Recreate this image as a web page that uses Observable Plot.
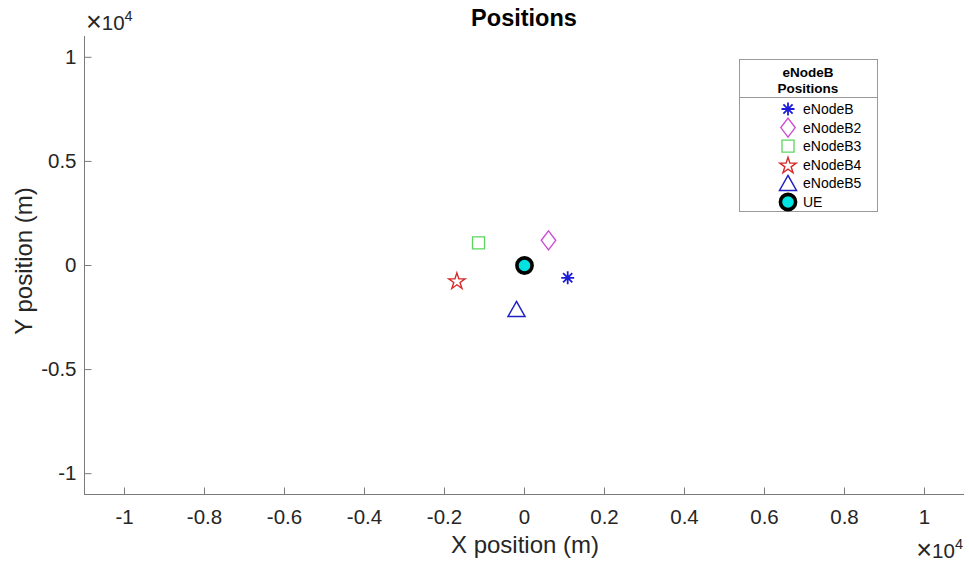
<!DOCTYPE html>
<html>
<head>
<meta charset="utf-8">
<script src="https://cdn.jsdelivr.net/npm/d3@7"></script>
<script src="https://cdn.jsdelivr.net/npm/@observablehq/plot@0.6"></script>
<style>
  body { margin: 0; background: #fff; }
  #wrap { position: relative; width: 969px; height: 564px; font-family: "Liberation Sans", Arial, Helvetica, sans-serif; }
  #wrap > svg { position: absolute; left: 0; top: 0; }
</style>
</head>
<body>
<div id="wrap"></div>
<script>
// ---- data ----
const names = ["eNodeB", "eNodeB2", "eNodeB3", "eNodeB4", "eNodeB5", "UE"];
const xs = [1080, 600, -1150, -1690, -200, 0];
const ys = [-590, 1210, 1090, -720, -2110, 0];
const xTicks = [-10000, -8000, -6000, -4000, -2000, 0, 2000, 4000, 6000, 8000, 10000];
const yTicks = [-10000, -5000, 0, 5000, 10000];
const xDomain = [-11000, 11000];
const yDomain = [-11000, 11000];
const titleText = "Positions";
const xLabel = "X position (m)";
const yLabel = "Y position (m)";
const legendTitle = ["eNodeB", "Positions"];
const exponent = "4";

// ---- styles ----
const kinds = ["asterisk", "diamond", "square", "star", "triangle", "circle"];
const strokes = ["#1c1cd8", "#d04ad6", "#5cd65c", "#d82a2a", "#2020c4", "#000000"];
const fills = ["none", "none", "none", "none", "none", "#00e3e3"];
const widths = [1.8, 1.4, 1.3, 1.4, 1.5, 3.6];
const axisColor = "#7a7a7a";
const textColor = "#262626";
const FONT = "Liberation Sans, Arial, Helvetica, sans-serif";

function drawKind(kind, ctx) {
  switch (kind) {
    case "asterisk": {
      const a = 6.5, b = 4.6;
      ctx.moveTo(-a, 0); ctx.lineTo(a, 0);
      ctx.moveTo(0, -a); ctx.lineTo(0, a);
      ctx.moveTo(-b, -b); ctx.lineTo(b, b);
      ctx.moveTo(-b, b); ctx.lineTo(b, -b);
      break;
    }
    case "diamond":
      ctx.moveTo(0, -9.5); ctx.lineTo(7.2, 0); ctx.lineTo(0, 9.5); ctx.lineTo(-7.2, 0); ctx.closePath();
      break;
    case "square":
      ctx.moveTo(-6, -6); ctx.lineTo(6, -6); ctx.lineTo(6, 6); ctx.lineTo(-6, 6); ctx.closePath();
      break;
    case "star": {
      const R = 8.6, r = R * 0.382;
      for (let k = 0; k < 10; k++) {
        const rad = k % 2 === 0 ? R : r;
        const ang = -Math.PI / 2 + k * Math.PI / 5;
        const px = rad * Math.cos(ang), py = rad * Math.sin(ang) + 1;
        if (k === 0) ctx.moveTo(px, py); else ctx.lineTo(px, py);
      }
      ctx.closePath();
      break;
    }
    case "triangle":
      ctx.moveTo(0, -8); ctx.lineTo(8.5, 7); ctx.lineTo(-8.5, 7); ctx.closePath();
      break;
    case "circle":
      ctx.moveTo(7.6, 0); ctx.arc(0, 0, 7.6, 0, 2 * Math.PI); ctx.closePath();
      break;
    case "tickUp":
      ctx.moveTo(0, 0); ctx.lineTo(0, -7);
      break;
    case "tickRight":
      ctx.moveTo(0, 0); ctx.lineTo(7, 0);
      break;
  }
}
const sym = kind => ({ draw(ctx) { drawKind(kind, ctx); } });

const fmt = d => String(+(d / 1e4).toFixed(1));

const pointMarks = names.map((n, i) =>
  Plot.dot([i], {
    x: j => xs[j], y: j => ys[j],
    symbol: sym(kinds[i]), r: 5,
    stroke: strokes[i], fill: fills[i], strokeWidth: widths[i]
  })
);

const chart = Plot.plot({
  width: 969, height: 564,
  marginLeft: 84, marginRight: 5, marginTop: 36, marginBottom: 70,
  style: { fontFamily: FONT, background: "white", color: textColor, overflow: "visible" },
  x: { domain: xDomain, label: null },
  y: { domain: yDomain, label: null },
  marks: [
    Plot.ruleY([yDomain[0]], { stroke: axisColor, strokeWidth: 1 }),
    Plot.ruleX([xDomain[0]], { stroke: axisColor, strokeWidth: 1 }),
    Plot.dot(xTicks, { x: d => d, y: () => yDomain[0], symbol: sym("tickUp"), r: 3, stroke: axisColor, strokeWidth: 1 }),
    Plot.dot(yTicks, { x: () => xDomain[0], y: d => d, symbol: sym("tickRight"), r: 3, stroke: axisColor, strokeWidth: 1 }),
    Plot.axisX({ ticks: xTicks, tickFormat: fmt, tickSize: 0, tickPadding: 15, fontSize: 20.5, label: null, color: textColor }),
    Plot.axisY({ ticks: yTicks, tickFormat: fmt, tickSize: 0, tickPadding: 8, fontSize: 20.5, label: null, color: textColor }),
    ...pointMarks
  ]
});

const wrap = document.getElementById("wrap");
wrap.appendChild(chart);

// ---- overlay: titles, labels, exponent, legend ----
const ov = d3.select(wrap).append("svg")
  .attr("width", 969).attr("height", 564)
  .style("font-family", FONT);

ov.append("text").attr("x", 524).attr("y", 26).attr("text-anchor", "middle")
  .attr("font-size", 23.5).attr("font-weight", "bold").attr("fill", "#000").text(titleText);

ov.append("text").attr("x", 525).attr("y", 553).attr("text-anchor", "middle")
  .attr("font-size", 24).attr("fill", textColor).text(xLabel);

ov.append("text").attr("transform", "translate(32,261) rotate(-90)").attr("text-anchor", "middle")
  .attr("font-size", 24).attr("fill", textColor).text(yLabel);

function exp(x, y, anchor) {
  const t = ov.append("text").attr("x", x).attr("y", y).attr("text-anchor", anchor)
    .attr("font-size", 20.5).attr("fill", textColor);
  t.append("tspan").attr("font-size", 27).attr("font-weight", 300).attr("dy", 1).text("\u00d7");
  t.append("tspan").attr("dy", -1).text("10");
  t.append("tspan").attr("font-size", 14.5).attr("dy", -9).text(exponent);
}
exp(86, 30, "start");
exp(963, 558, "end");

// legend
const lg = ov.append("g");
lg.append("rect").attr("x", 739.5).attr("y", 59.5).attr("width", 138).attr("height", 152)
  .attr("fill", "white").attr("stroke", "#9a9a9a").attr("stroke-width", 1);
lg.append("line").attr("x1", 739.5).attr("x2", 877.5).attr("y1", 97.5).attr("y2", 97.5)
  .attr("stroke", "#9a9a9a").attr("stroke-width", 1);
legendTitle.forEach((s, k) => {
  lg.append("text").attr("x", 808).attr("y", 77 + k * 16).attr("text-anchor", "middle")
    .attr("font-size", 13.5).attr("font-weight", "bold").attr("fill", "#000").text(s);
});
names.forEach((n, i) => {
  const cy = 109 + i * 18.6;
  const p = d3.path();
  drawKind(kinds[i], p);
  lg.append("path").attr("d", p.toString()).attr("transform", `translate(788,${cy})`)
    .attr("stroke", strokes[i]).attr("fill", fills[i]).attr("stroke-width", widths[i]);
  lg.append("text").attr("x", 803).attr("y", cy + 5).attr("font-size", 14).attr("fill", "#000").text(n);
});
</script>
</body>
</html>
